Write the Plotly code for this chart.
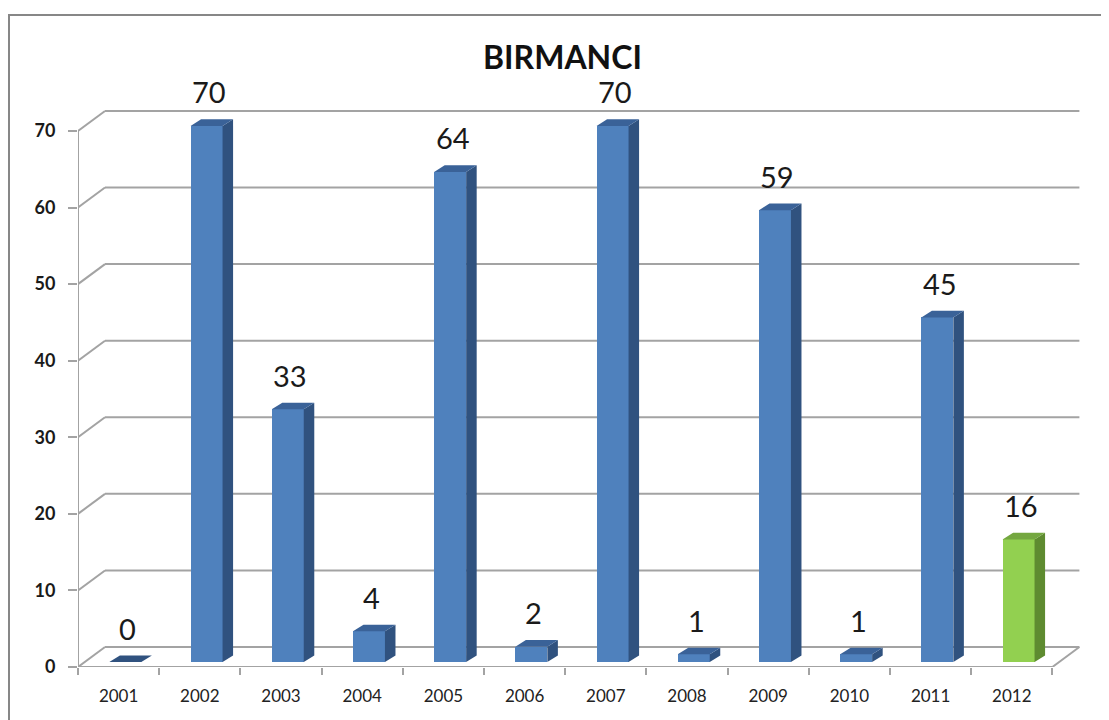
import plotly.graph_objects as go

# ---- data ----
years = ["2001", "2002", "2003", "2004", "2005", "2006", "2007", "2008", "2009", "2010", "2011", "2012"]
values = [0, 70, 33, 4, 64, 2, 70, 1, 59, 1, 45, 16]
y_ticks = [0, 10, 20, 30, 40, 50, 60, 70]
title_text = "BIRMANCI"

# ---- style ----
front_cols = ["#4F81BD"] * 11 + ["#92D050"]
side_cols = ["#30527F"] * 11 + ["#5E8B30"]
top_cols = ["#3A6298"] * 11 + ["#74A740"]
grid_col = "#A3A3A3"

# oblique projection (depth) in axis units
DX, DY = 0.3325, 2.61          # full depth of wall/floor
D0, DEPTH = 0.25, 0.39         # bar front depth and bar thickness
BW = 0.394                     # bar width
bx, by = D0 * DX, D0 * DY       # bar front-face shift
ddx, ddy = DEPTH * DX, DEPTH * DY * 0.85

idx = list(range(len(years)))
n = len(years)

ML, MT, MB = 70, 77, 61
PW = 1015
PH = 720 - MT - MB

fig = go.Figure()
fig.add_trace(go.Bar(
    x=idx, y=values, base=[by] * n, width=BW, offset=-BW / 2 + bx,
    marker=dict(color=front_cols, line=dict(width=0)),
    hoverinfo="skip", showlegend=False,
))

shapes = []
L, R = -0.5, n - 0.5
# back wall gridlines and side-wall diagonals
for v in y_ticks:
    shapes.append(dict(type="line", xref="x", yref="y", x0=L + DX, x1=R + DX, y0=v + DY, y1=v + DY,
                       line=dict(color=grid_col, width=2), layer="below"))
    shapes.append(dict(type="line", xref="x", yref="y", x0=L, x1=L + DX, y0=v, y1=v + DY,
                       line=dict(color=grid_col, width=2), layer="below"))
# front axis lines
shapes.append(dict(type="line", xref="x", yref="y", x0=L, x1=L, y0=0, y1=y_ticks[-1],
                   line=dict(color=grid_col, width=2), layer="below"))
shapes.append(dict(type="line", xref="x", yref="y", x0=L, x1=R, y0=0, y1=0,
                   line=dict(color=grid_col, width=2), layer="below"))
shapes.append(dict(type="line", xref="x", yref="y", x0=R, x1=R + DX, y0=0, y1=DY,
                   line=dict(color=grid_col, width=2), layer="below"))

# bar side and top faces
for i, v in enumerate(values):
    xl = i - BW / 2 + bx
    xr = xl + BW
    b = by
    side = (f"M {xr},{b} L {xr + ddx},{b + ddy} L {xr + ddx},{b + v + ddy} "
            f"L {xr},{b + v} Z")
    top = (f"M {xl},{b + v} L {xl + ddx},{b + v + ddy} L {xr + ddx},{b + v + ddy} "
           f"L {xr},{b + v} Z")
    if v > 0:
        shapes.append(dict(type="path", xref="x", yref="y", path=side,
                           fillcolor=side_cols[i], line=dict(width=0), layer="above"))
    shapes.append(dict(type="path", xref="x", yref="y", path=top,
                       fillcolor=top_cols[i] if v > 0 else side_cols[i],
                       line=dict(width=0), layer="above"))

# outer chart border
shapes.append(dict(type="rect", xref="paper", yref="paper",
                   x0=(1 - ML) / PW, x1=1.3, y0=-0.4, y1=(PH + MT - 7) / PH,
                   line=dict(color="#878787", width=2), fillcolor="rgba(0,0,0,0)", layer="below"))

annotations = []
for i, v in enumerate(values):
    annotations.append(dict(x=i + bx + 0.03, y=by + v, xref="x", yref="y", text=str(v),
                            showarrow=False, yanchor="middle", yshift=34,
                            font=dict(family="Lato", size=29, color="#1a1a1a")))
annotations.append(dict(x=(554 - ML) / PW, y=(PH + MT - 49) / PH, xref="paper", yref="paper",
                        text=f"<b>{title_text}</b>",
                        showarrow=False, xanchor="center", yanchor="middle",
                        font=dict(family="Lato", size=32, color="#111111")))

fig.update_layout(
    width=1109, height=720,
    margin=dict(l=ML, r=1109 - ML - PW, t=MT, b=MB, autoexpand=False),
    paper_bgcolor="white", plot_bgcolor="white",
    shapes=shapes, annotations=annotations,
    bargap=0,
    xaxis=dict(range=[L, 12.0], tickmode="array", tickvals=idx, ticktext=years,
               ticks="outside", ticklen=14, tickcolor="rgba(0,0,0,0)",
               showgrid=False, zeroline=False, showline=False,
               tickfont=dict(family="Lato", size=17, color="#222222"),
               minor=dict(tickmode="array", tickvals=[k - 0.5 for k in range(n + 1)],
                          ticks="outside", ticklen=7, tickwidth=2, tickcolor=grid_col)),
    yaxis=dict(range=[0, 76], tickmode="array", tickvals=y_ticks,
               ticks="outside", ticklen=9, tickwidth=2, tickcolor=grid_col,
               showgrid=False, zeroline=False, showline=False,
               ticklabelstandoff=9,
               tickfont=dict(family="Lato", size=18, color="#1a1a1a", weight="bold")),
)

fig.write_html("out.html")
